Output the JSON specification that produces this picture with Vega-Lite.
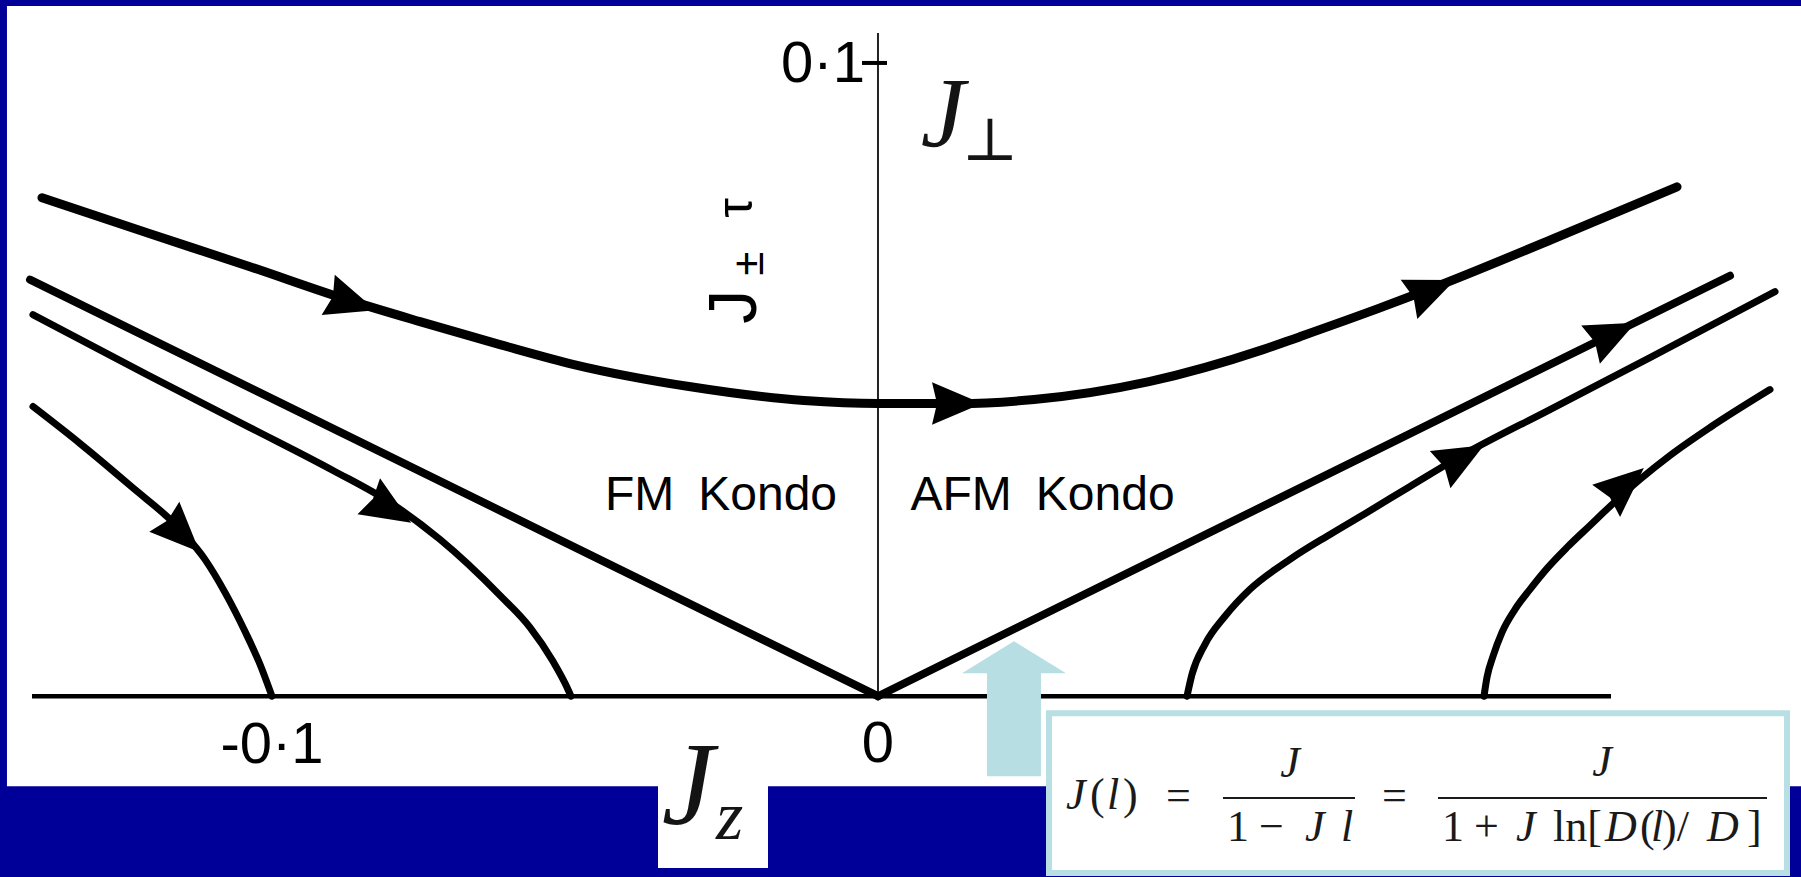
{
  "$schema": "https://vega.github.io/schema/vega-lite/v6.json",
  "description": "Poor man's scaling flow of the anisotropic Kondo model in the (J_z, J_perp) plane",
  "width": 1801,
  "height": 877,
  "autosize": {"type": "fit", "contains": "padding"},
  "padding": 0,
  "background": "#000099",
  "config": {"view": {"stroke": null}},
  "datasets": {
    "flows": [
      {"flow": "upper", "jz": -0.13795, "jperp": 0.07871},
      {"flow": "upper", "jz": -0.12013, "jperp": 0.07303},
      {"flow": "upper", "jz": -0.10363, "jperp": 0.06782},
      {"flow": "upper", "jz": -0.08762, "jperp": 0.06262},
      {"flow": "upper", "jz": -0.07558, "jperp": 0.05915},
      {"flow": "upper", "jz": -0.06238, "jperp": 0.05552},
      {"flow": "upper", "jz": -0.05017, "jperp": 0.05237},
      {"flow": "upper", "jz": -0.03119, "jperp": 0.0489},
      {"flow": "upper", "jz": -0.01221, "jperp": 0.04669},
      {"flow": "upper", "jz": 0.0, "jperp": 0.04621},
      {"flow": "upper", "jz": 0.01337, "jperp": 0.04621},
      {"flow": "upper", "jz": 0.02574, "jperp": 0.04685},
      {"flow": "upper", "jz": 0.04472, "jperp": 0.04968},
      {"flow": "upper", "jz": 0.06353, "jperp": 0.05473},
      {"flow": "upper", "jz": 0.06964, "jperp": 0.05678},
      {"flow": "upper", "jz": 0.08251, "jperp": 0.0612},
      {"flow": "upper", "jz": 0.09208, "jperp": 0.06467},
      {"flow": "upper", "jz": 0.11106, "jperp": 0.07208},
      {"flow": "upper", "jz": 0.13185, "jperp": 0.08044},
      {"flow": "fm-separatrix", "jz": -0.13993, "jperp": 0.06577},
      {"flow": "fm-separatrix", "jz": 0.0, "jperp": 0.0},
      {"flow": "afm-separatrix", "jz": 0.0, "jperp": 0.0},
      {"flow": "afm-separatrix", "jz": 0.14059, "jperp": 0.0664},
      {"flow": "fm-inner", "jz": -0.13944, "jperp": 0.06025},
      {"flow": "fm-inner", "jz": -0.12063, "jperp": 0.05079},
      {"flow": "fm-inner", "jz": -0.10363, "jperp": 0.04243},
      {"flow": "fm-inner", "jz": -0.08993, "jperp": 0.03565},
      {"flow": "fm-inner", "jz": -0.08053, "jperp": 0.0306},
      {"flow": "fm-inner", "jz": -0.07228, "jperp": 0.02476},
      {"flow": "fm-inner", "jz": -0.06238, "jperp": 0.01593},
      {"flow": "fm-inner", "jz": -0.05743, "jperp": 0.01088},
      {"flow": "fm-inner", "jz": -0.05363, "jperp": 0.00552},
      {"flow": "fm-inner", "jz": -0.05132, "jperp": 0.00142},
      {"flow": "fm-inner", "jz": -0.05066, "jperp": 0.0},
      {"flow": "fm-outer", "jz": -0.13944, "jperp": 0.04574},
      {"flow": "fm-outer", "jz": -0.13168, "jperp": 0.03991},
      {"flow": "fm-outer", "jz": -0.12343, "jperp": 0.03328},
      {"flow": "fm-outer", "jz": -0.11469, "jperp": 0.02587},
      {"flow": "fm-outer", "jz": -0.11106, "jperp": 0.02161},
      {"flow": "fm-outer", "jz": -0.10776, "jperp": 0.0164},
      {"flow": "fm-outer", "jz": -0.10446, "jperp": 0.01025},
      {"flow": "fm-outer", "jz": -0.10198, "jperp": 0.00505},
      {"flow": "fm-outer", "jz": -0.1, "jperp": 0.0},
      {"flow": "afm-inner", "jz": 0.05099, "jperp": 0.0},
      {"flow": "afm-inner", "jz": 0.05182, "jperp": 0.00347},
      {"flow": "afm-inner", "jz": 0.05396, "jperp": 0.0082},
      {"flow": "afm-inner", "jz": 0.05726, "jperp": 0.01262},
      {"flow": "afm-inner", "jz": 0.06139, "jperp": 0.01688},
      {"flow": "afm-inner", "jz": 0.06799, "jperp": 0.02161},
      {"flow": "afm-inner", "jz": 0.07459, "jperp": 0.02555},
      {"flow": "afm-inner", "jz": 0.08069, "jperp": 0.02902},
      {"flow": "afm-inner", "jz": 0.08779, "jperp": 0.03312},
      {"flow": "afm-inner", "jz": 0.09604, "jperp": 0.03785},
      {"flow": "afm-inner", "jz": 0.11089, "jperp": 0.04527},
      {"flow": "afm-inner", "jz": 0.12739, "jperp": 0.05347},
      {"flow": "afm-inner", "jz": 0.14802, "jperp": 0.06388},
      {"flow": "afm-outer", "jz": 0.1, "jperp": 0.0},
      {"flow": "afm-outer", "jz": 0.1005, "jperp": 0.003},
      {"flow": "afm-outer", "jz": 0.10149, "jperp": 0.00631},
      {"flow": "afm-outer", "jz": 0.10297, "jperp": 0.01009},
      {"flow": "afm-outer", "jz": 0.10512, "jperp": 0.01372},
      {"flow": "afm-outer", "jz": 0.10759, "jperp": 0.01688},
      {"flow": "afm-outer", "jz": 0.11056, "jperp": 0.02035},
      {"flow": "afm-outer", "jz": 0.1137, "jperp": 0.0235},
      {"flow": "afm-outer", "jz": 0.11749, "jperp": 0.02697},
      {"flow": "afm-outer", "jz": 0.12112, "jperp": 0.03028},
      {"flow": "afm-outer", "jz": 0.12574, "jperp": 0.03423},
      {"flow": "afm-outer", "jz": 0.13069, "jperp": 0.03801},
      {"flow": "afm-outer", "jz": 0.13729, "jperp": 0.04243},
      {"flow": "afm-outer", "jz": 0.14719, "jperp": 0.04842}
    ],
    "arrowheads": [
      {"flow": "upper", "jz": -0.0868, "jperp": 0.06215, "heading": 18},
      {"flow": "upper", "jz": 0.01304, "jperp": 0.04621, "heading": 0},
      {"flow": "upper", "jz": 0.09142, "jperp": 0.0642, "heading": -23},
      {"flow": "fm-inner", "jz": -0.08053, "jperp": 0.0295, "heading": 32},
      {"flow": "fm-outer", "jz": -0.11485, "jperp": 0.02555, "heading": 45},
      {"flow": "afm-separatrix", "jz": 0.12129, "jperp": 0.05726, "heading": -26},
      {"flow": "afm-inner", "jz": 0.09637, "jperp": 0.0377, "heading": -29},
      {"flow": "afm-outer", "jz": 0.12327, "jperp": 0.03344, "heading": -41}
    ],
    "formula": [
      {"jz": 0.03102, "jperp": -0.01782, "piece": "J", "italic": true},
      {"jz": 0.03498, "jperp": -0.01782, "piece": "(", "italic": false},
      {"jz": 0.03779, "jperp": -0.01782, "piece": "l", "italic": true},
      {"jz": 0.04043, "jperp": -0.01782, "piece": ")", "italic": false},
      {"jz": 0.04752, "jperp": -0.01798, "piece": "=", "italic": false},
      {"jz": 0.06799, "jperp": -0.01278, "piece": "J", "italic": true, "centred": true},
      {"jz": 0.05759, "jperp": -0.02287, "piece": "1", "italic": false},
      {"jz": 0.06287, "jperp": -0.02287, "piece": "−", "italic": false},
      {"jz": 0.07046, "jperp": -0.02287, "piece": "J", "italic": true},
      {"jz": 0.0764, "jperp": -0.02287, "piece": "l", "italic": true},
      {"jz": 0.08317, "jperp": -0.01798, "piece": "=", "italic": false},
      {"jz": 0.11947, "jperp": -0.01262, "piece": "J", "italic": true, "centred": true},
      {"jz": 0.09307, "jperp": -0.02287, "piece": "1", "italic": false},
      {"jz": 0.09835, "jperp": -0.02287, "piece": "+", "italic": false},
      {"jz": 0.10528, "jperp": -0.02287, "piece": "J", "italic": true},
      {"jz": 0.11139, "jperp": -0.02287, "piece": "ln[", "italic": false},
      {"jz": 0.11997, "jperp": -0.02287, "piece": "D", "italic": true},
      {"jz": 0.12574, "jperp": -0.02287, "piece": "(", "italic": false},
      {"jz": 0.12756, "jperp": -0.02287, "piece": "l", "italic": true},
      {"jz": 0.12937, "jperp": -0.02287, "piece": ")/", "italic": false},
      {"jz": 0.1368, "jperp": -0.02287, "piece": "D", "italic": true},
      {"jz": 0.1434, "jperp": -0.02287, "piece": "]", "italic": false}
    ]
  },
  "encoding": {
    "x": {"field": "jz", "type": "quantitative", "axis": null, "scale": {"domain": [-0.14488, 0.15231], "nice": false, "zero": false}},
    "y": {"field": "jperp", "type": "quantitative", "axis": null, "scale": {"domain": [-0.02839, 0.10994], "nice": false, "zero": false}}
  },
  "layer": [
    {
      "data": {"values": [{"jz": -0.14373, "jz2": 0.15231, "jperp": 0.10899, "jperp2": -0.0142}]},
      "mark": {"type": "rect", "fill": "#ffffff"},
      "encoding": {"x2": {"field": "jz2"}, "y2": {"field": "jperp2"}}
    },
    {
      "data": {"values": [{"jz": -0.0363, "jz2": -0.01815, "jperp": -0.0138, "jperp2": -0.02713}]},
      "mark": {"type": "rect", "fill": "#ffffff"},
      "encoding": {"x2": {"field": "jz2"}, "y2": {"field": "jperp2"}}
    },
    {
      "data": {"values": [{"jz": 0.02822, "jz2": 0.15, "jperp": -0.00268, "jperp2": -0.02792}]},
      "mark": {"type": "rect", "fill": "#ffffff", "stroke": "#b8dfe3", "strokeWidth": 6},
      "encoding": {"x2": {"field": "jz2"}, "y2": {"field": "jperp2"}}
    },
    {
      "data": {"values": [{"jz": -0.1396, "jz2": 0.12096, "jperp": 0, "jperp2": 0}]},
      "mark": {"type": "rule", "color": "#000000", "strokeWidth": 4.5},
      "encoding": {"x2": {"field": "jz2"}, "y2": {"field": "jperp2"}}
    },
    {
      "data": {"values": [{"jz": 0, "jz2": 0, "jperp": 0, "jperp2": 0.10473}]},
      "mark": {"type": "rule", "color": "#222222", "strokeWidth": 2},
      "encoding": {"x2": {"field": "jz2"}, "y2": {"field": "jperp2"}}
    },
    {
      "data": {"values": [{"jz": -0.00264, "jz2": 0.00149, "jperp": 0.1, "jperp2": 0.1}]},
      "mark": {"type": "rule", "color": "#000000", "strokeWidth": 4},
      "encoding": {"x2": {"field": "jz2"}, "y2": {"field": "jperp2"}}
    },
    {
      "data": {"name": "flows"},
      "transform": [{"filter": "datum.flow === 'upper'"}],
      "mark": {"type": "line", "color": "#000000", "strokeWidth": 9, "interpolate": "monotone", "strokeCap": "round", "strokeJoin": "round"},
      "encoding": {"detail": {"field": "flow"}}
    },
    {
      "data": {"name": "flows"},
      "transform": [{"filter": "indexof(datum.flow, 'separatrix') >= 0"}],
      "mark": {"type": "line", "color": "#000000", "strokeWidth": 8, "interpolate": "linear", "strokeCap": "round", "strokeJoin": "round"},
      "encoding": {"detail": {"field": "flow"}}
    },
    {
      "data": {"name": "flows"},
      "transform": [{"filter": "datum.flow !== 'upper' && indexof(datum.flow, 'separatrix') < 0"}],
      "mark": {"type": "line", "color": "#000000", "strokeWidth": 7, "interpolate": "monotone", "strokeCap": "round", "strokeJoin": "round"},
      "encoding": {"detail": {"field": "flow"}}
    },
    {
      "data": {"name": "arrowheads"},
      "mark": {"type": "point", "shape": "M1,0L-1,-0.85L-0.8,0L-1,0.85Z", "filled": true, "color": "#000000", "opacity": 1, "size": 2500, "strokeWidth": 0},
      "encoding": {"angle": {"field": "heading", "type": "quantitative", "scale": null}}
    },
    {
      "data": {"values": [
        {"jz": -0.00908, "jperp": 0.097, "label": "0·1"},
        {"jz": -0.1, "jperp": -0.01057, "label": "-0·1"},
        {"jz": 0.0, "jperp": -0.01041, "label": "0"}
      ]},
      "mark": {"type": "text", "font": "Liberation Sans", "fontSize": 58, "align": "center", "baseline": "alphabetic", "color": "#000000"},
      "encoding": {"text": {"field": "label"}}
    },
    {
      "data": {"values": [
        {"jz": -0.02591, "jperp": 0.02934, "label": "FM\u2002Kondo"},
        {"jz": 0.02715, "jperp": 0.02934, "label": "AFM\u2002Kondo"}
      ]},
      "mark": {"type": "text", "font": "Liberation Sans", "fontSize": 48, "align": "center", "baseline": "alphabetic", "color": "#000000"},
      "encoding": {"text": {"field": "label"}}
    },
    {
      "data": {"values": [{"jz": -0.02013, "jperp": 0.05883, "label": "J"}]},
      "mark": {"type": "text", "font": "Liberation Sans", "fontSize": 68, "angle": 270, "align": "left", "baseline": "alphabetic", "color": "#000000"},
      "encoding": {"text": {"field": "label"}}
    },
    {
      "data": {"values": [{"jz": -0.01898, "jperp": 0.0664, "label": "±"}]},
      "mark": {"type": "text", "font": "Liberation Sans", "fontSize": 44, "angle": 270, "align": "left", "baseline": "alphabetic", "color": "#000000"},
      "encoding": {"text": {"field": "label"}}
    },
    {
      "data": {"values": [{"jz": -0.02079, "jperp": 0.07555, "label": "τ"}]},
      "mark": {"type": "text", "font": "Liberation Sans", "fontSize": 50, "angle": 270, "align": "left", "baseline": "alphabetic", "color": "#000000"},
      "encoding": {"text": {"field": "label"}}
    },
    {
      "data": {"values": [{"jz": 0.01073, "jperp": 0.08691, "label": "J"}]},
      "mark": {"type": "text", "font": "Liberation Serif", "fontStyle": "italic", "fontSize": 100, "align": "center", "baseline": "alphabetic", "color": "#141414"},
      "encoding": {"text": {"field": "label"}}
    },
    {
      "data": {"values": [{"jz": 0.01848, "jperp": 0.0847, "label": "⊥"}]},
      "mark": {"type": "text", "font": "DejaVu Serif", "fontSize": 60, "align": "center", "baseline": "alphabetic", "color": "#141414"},
      "encoding": {"text": {"field": "label"}}
    },
    {
      "data": {"values": [{"jz": -0.03135, "jperp": -0.02019, "label": "J"}]},
      "mark": {"type": "text", "font": "Liberation Serif", "fontStyle": "italic", "fontSize": 118, "align": "center", "baseline": "alphabetic", "color": "#141414"},
      "encoding": {"text": {"field": "label"}}
    },
    {
      "data": {"values": [{"jz": -0.02673, "jperp": -0.02256, "label": "z"}]},
      "mark": {"type": "text", "font": "Liberation Serif", "fontStyle": "italic", "fontSize": 70, "align": "left", "baseline": "alphabetic", "color": "#141414"},
      "encoding": {"text": {"field": "label"}}
    },
    {
      "data": {"name": "formula"},
      "transform": [{"filter": "datum.italic && !datum.centred"}],
      "mark": {"type": "text", "font": "Liberation Serif", "fontStyle": "italic", "fontSize": 44, "align": "left", "baseline": "alphabetic", "color": "#1a1a1a"},
      "encoding": {"text": {"field": "piece"}}
    },
    {
      "data": {"name": "formula"},
      "transform": [{"filter": "datum.italic && datum.centred"}],
      "mark": {"type": "text", "font": "Liberation Serif", "fontStyle": "italic", "fontSize": 44, "align": "center", "baseline": "alphabetic", "color": "#1a1a1a"},
      "encoding": {"text": {"field": "piece"}}
    },
    {
      "data": {"name": "formula"},
      "transform": [{"filter": "!datum.italic"}],
      "mark": {"type": "text", "font": "Liberation Serif", "fontSize": 44, "align": "left", "baseline": "alphabetic", "color": "#1a1a1a"},
      "encoding": {"text": {"field": "piece"}}
    },
    {
      "data": {"values": [
        {"jz": 0.05693, "jz2": 0.07871, "jperp": -0.01609, "jperp2": -0.01609},
        {"jz": 0.09241, "jz2": 0.1467, "jperp": -0.01609, "jperp2": -0.01609}
      ]},
      "mark": {"type": "rule", "color": "#1a1a1a", "strokeWidth": 2},
      "encoding": {"x2": {"field": "jz2"}, "y2": {"field": "jperp2"}}
    },
    {
      "data": {"values": [{"jz": 0.02244, "jperp": -0.00189, "pointer": "AFM separatrix"}]},
      "mark": {"type": "point", "shape": "M0,-1.288L1,-0.673L0.519,-0.673L0.519,1.308L-0.519,1.308L-0.519,-0.673L-1,-0.673Z", "filled": true, "color": "#b7dee2", "opacity": 1, "size": 10816, "strokeWidth": 0}
    }
  ]
}
